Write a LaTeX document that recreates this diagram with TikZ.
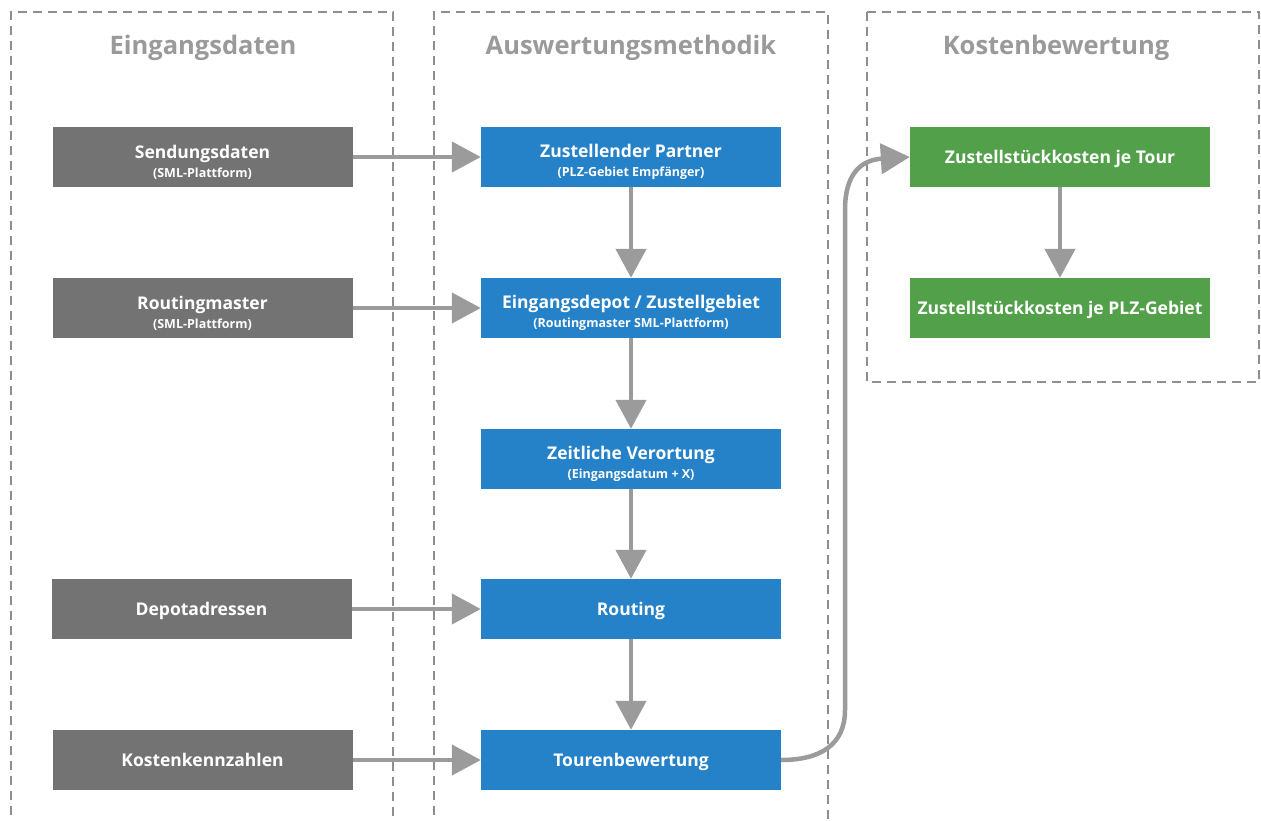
\documentclass[tikz,border=0pt]{standalone}
\usepackage{fontspec}
\setmainfont{Open Sans}
\usetikzlibrary{arrows.meta}
\definecolor{boxgrey}{HTML}{737373}
\definecolor{boxblue}{HTML}{2682C8}
\definecolor{boxgreen}{HTML}{52A14A}
\definecolor{arrowgrey}{HTML}{9B9B9B}
\definecolor{framegrey}{HTML}{8E8E8E}
\definecolor{titlegrey}{HTML}{9A9A9A}
\tikzset{
  frameline/.style={draw=framegrey, line width=1.8pt, dash pattern=on 9pt off 6pt},
  coltitle/.style={text=titlegrey, font=\fontsize{25.5}{30}\selectfont\bfseries},
  procbox/.style={minimum width=300pt, minimum height=60pt, inner sep=0pt, text=white, align=center, text height=13pt, text depth=0.5pt, font=\fontsize{17.5}{21}\selectfont\bfseries},
  greybox/.style={procbox, fill=boxgrey},
  bluebox/.style={procbox, fill=boxblue},
  greenbox/.style={procbox, fill=boxgreen},
  boxtext/.style={inner sep=0pt, text=white, align=center, font=\fontsize{17.5}{21}\selectfont\bfseries, yshift=-5pt},
  flowarrow/.style={draw=arrowgrey, line width=4.5pt, -{Triangle[width=30pt,length=29pt]}},
}
\newcommand{\sublabel}[1]{\\[-2pt]{\fontsize{12.5}{14}\selectfont #1}}
\begin{document}
\begin{tikzpicture}[x=1pt,y=-1pt]
\useasboundingbox (0,0) rectangle (1261,821);
\fill[white] (0,0) rectangle (1261,821);
% frames
\draw[frameline] (11,830) -- (11,12) -- (393,12) -- (393,830);
\draw[frameline] (434,830) -- (434,12) -- (828,12) -- (828,830);
\draw[frameline] (867,12) rectangle (1259,382);
% titles
\node[coltitle] (t1) at (203,48) {Eingangsdaten};
\node[coltitle] (t2) at (631,48) {Auswertungsmethodik};
\node[coltitle] (t3) at (1056,48) {Kostenbewertung};
% grey boxes
\node[greybox] (g1) at (202.5,157) {};
\node[boxtext] (g1t) at (g1.center) {Sendungsdaten\sublabel{(SML-Plattform)}};
\node[greybox] (g2) at (202.5,308) {};
\node[boxtext] (g2t) at (g2.center) {Routingmaster\sublabel{(SML-Plattform)}};
\node[greybox] (g3) at (201.5,609) {Depotadressen};
\node[greybox] (g4) at (202.5,760) {Kostenkennzahlen};
% blue boxes
\node[bluebox] (b1) at (631,157) {};
\node[boxtext] (b1t) at (b1.center) {Zustellender Partner\sublabel{(PLZ-Gebiet Empfänger)}};
\node[bluebox] (b2) at (631,308) {};
\node[boxtext] (b2t) at (b2.center) {Eingangsdepot / Zustellgebiet\sublabel{(Routingmaster SML-Plattform)}};
\node[bluebox] (b3) at (631,459) {};
\node[boxtext] (b3t) at (b3.center) {Zeitliche Verortung\sublabel{(Eingangsdatum + X)}};
\node[bluebox] (b4) at (631,609) {Routing};
\node[bluebox] (b5) at (631,760) {Tourenbewertung};
% green boxes
\node[greenbox] (c1) at (1060,157) {Zustellstückkosten je Tour};
\node[greenbox] (c2) at (1060,308) {Zustellstückkosten je PLZ-Gebiet};
% arrows
\draw[flowarrow] (g1) -- (b1);
\draw[flowarrow] (g2) -- (b2);
\draw[flowarrow] (g3) -- (b4);
\draw[flowarrow] (g4) -- (b5);
\draw[flowarrow] (b1) -- (b2);
\draw[flowarrow] (b2) -- (b3);
\draw[flowarrow] (b3) -- (b4);
\draw[flowarrow] (b4) -- (b5);
\draw[flowarrow] (c1) -- (c2);
\coordinate (k1) at (845,710);
\coordinate (k2) at (845,210);
\draw[flowarrow] (b5.east) .. controls (820,760) and (845,745) .. (k1) -- (k2) .. controls (845,175) and (860,160) .. (c1.west);
\end{tikzpicture}
\end{document}
